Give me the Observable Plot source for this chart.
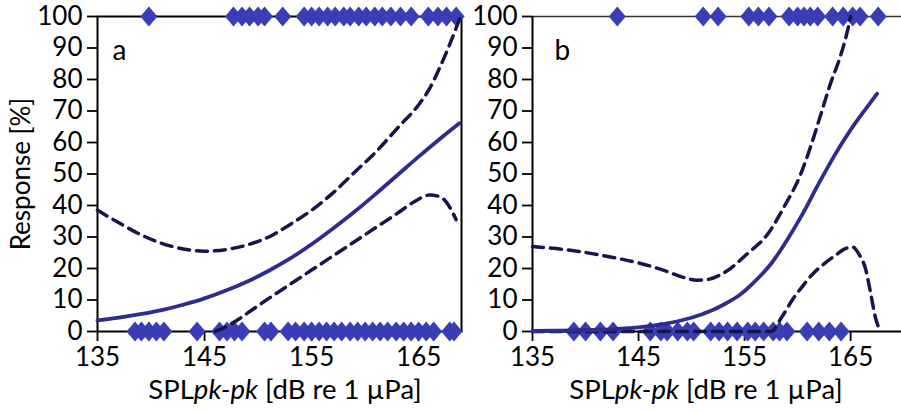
<!DOCTYPE html>
<html>
<head>
<meta charset="utf-8">
<script src="https://cdn.jsdelivr.net/npm/d3@7"></script>
<script src="https://cdn.jsdelivr.net/npm/@observablehq/plot@0.6"></script>
<style>
  html, body { margin: 0; padding: 0; background: #fff; }
  #wrap { position: relative; width: 901px; height: 412px; background: #fff; overflow: hidden; }
  #wrap svg { position: absolute; top: 0; }
</style>
</head>
<body>
<div id="wrap"></div>
<script>
// ---- tick labels ----
const yTicks = [0, 10, 20, 30, 40, 50, 60, 70, 80, 90, 100];
const xTicks = [135, 145, 155, 165];

// ---- panel a: observed responses (SPL values, dB) ----
const aResponded = [139.8, 147.7, 148.5, 149.2, 150.0, 150.6, 152.3, 154.3, 155.0, 155.7, 156.5, 157.2, 158.0, 158.6, 159.4, 160.1, 160.9, 161.6, 162.4, 163.3, 164.3, 165.9, 166.8, 167.6, 168.5];
const aNoResponse = [138.5, 139.1, 139.8, 140.5, 141.2, 144.3, 146.4, 147.1, 147.8, 148.5, 150.6, 151.2, 152.8, 153.5, 154.3, 155.0, 155.7, 156.4, 157.1, 157.8, 158.6, 159.3, 160.0, 160.7, 161.4, 162.1, 162.9, 163.6, 164.3, 165.0, 165.7, 166.4, 167.9, 168.3];
// fitted curve and confidence limits [SPL, %]
const aFit = [[135,3.5],[137,4.4],[139,5.5],[141,6.8],[143,8.5],[145,10.5],[147,13],[149,15.9],[151,19.3],[153,23.2],[155,27.7],[157,32.7],[159,38],[161,43.7],[163,49.6],[165,55.5],[167,61.2],[168.8,66.1]];
const aUpper = [[135,38.5],[137,34.5],[139,30.8],[141,28],[143,26.2],[145,25.5],[147,26],[149,27.5],[151,30],[153,34],[155,38.5],[157,44],[159,50.5],[161,57],[163,64.5],[165,72],[166,77],[167,84],[168,92],[168.9,100]];
const aLower = [[146,0],[147,1.5],[148,3.5],[149.5,7],[151,10.5],[153,15],[155,19.5],[157,24],[159,28.5],[161,33],[163,37.5],[164.5,41],[166,43.3],[167,42.8],[167.8,40],[168.5,35.5]];

// ---- panel b ----
const bResponded = [143.0, 151.1, 152.5, 155.4, 156.3, 157.3, 159.2, 160.0, 160.6, 161.2, 161.9, 163.3, 164.3, 165.2, 165.9, 167.6];
const bNoResponse = [138.9, 140.0, 141.4, 142.6, 146.1, 147.1, 147.7, 148.7, 149.6, 150.2, 151.8, 152.6, 153.4, 154.3, 155.3, 156.0, 156.8, 157.7, 158.3, 159.0, 160.9, 162.0, 163.0, 164.1];
const bFit = [[135,0.2],[140,0.4],[143,0.8],[145,1.3],[147,2.2],[149,3.5],[151,5.5],[152,6.8],[153,8.5],[154.5,11.5],[156,16],[157.5,21.5],[159,29],[160.5,37.5],[162,47],[163.5,56],[165,64],[166.5,71],[167.5,75.5]];
const bUpper = [[135,27],[138,26],[140.5,24.8],[142.6,23.5],[145.2,21.6],[147.4,19.4],[149.2,17.2],[150.5,16.3],[151.5,16.5],[153,18.5],[155.3,24.8],[157.2,31],[158.7,39.4],[160.3,50],[161.2,58.4],[162.2,69],[163.1,78.7],[164,87],[164.6,94],[165,100]];
const bLower = [[135,0],[157.5,0],[158.5,4.5],[159.5,10],[160.5,14.5],[161.5,18.5],[162.5,21.5],[163.5,24],[164.5,26.3],[165.2,26.8],[165.8,24.5],[166.4,20],[166.9,12],[167.3,5],[167.8,0]];

// ---- styles ----
const FONT = "Lato, 'Open Sans', sans-serif";
const DIAMOND = "#393db6";
const FIT = "#2f2d8c";
const CI = "#16164a";

// diamond slightly narrower than tall
const diamondSymbol = {
  draw(ctx, size) {
    const hh = Math.sqrt(size / Math.PI);
    const hw = hh * 0.85;
    ctx.moveTo(0, -hh);
    ctx.lineTo(hw, 0);
    ctx.lineTo(0, hh);
    ctx.lineTo(-hw, 0);
    ctx.closePath();
  }
};

function panel(o) {
  const pts = [
    ...o.responded.map(x => ({x, y: 100})),
    ...o.noResponse.map(x => ({x, y: 0}))
  ];
  const marks = [];
  if (o.frame) {
    marks.push(Plot.frame({stroke: "#000", strokeWidth: 2}));
  } else {
    marks.push(Plot.ruleY([100], {stroke: "#333", strokeWidth: 1.6}));
    marks.push(Plot.ruleY([0], {stroke: "#000", strokeWidth: 2}));
    marks.push(Plot.ruleX([o.xDomain[0]], {stroke: "#000", strokeWidth: 2}));
  }
  marks.push(
    Plot.axisY(yTicks, {tickSize: 10, tickPadding: 5, fontSize: 26, strokeWidth: 1.8,
      label: o.yLabel ? "Response [%]" : null, labelAnchor: "center", labelArrow: "none", labelOffset: 86}),
    Plot.axisX(xTicks, {tickSize: 10, tickPadding: 6, fontSize: 26, strokeWidth: 1.8, label: null, tickFormat: d => String(d)}),
    Plot.dot(pts, {x: "x", y: "y", r: 10, symbol: diamondSymbol, fill: DIAMOND, stroke: "none", clip: false}),
    Plot.line(o.lower, {x: d => d[0], y: d => d[1], stroke: CI, strokeWidth: 3.5, strokeDasharray: "11,7", curve: "monotone-x"}),
    Plot.line(o.upper, {x: d => d[0], y: d => d[1], stroke: CI, strokeWidth: 3.5, strokeDasharray: "11,7", curve: "monotone-x"}),
    Plot.line(o.fit, {x: d => d[0], y: d => d[1], stroke: FIT, strokeWidth: 3.8, curve: "monotone-x"}),
    Plot.text([o.letter], {text: d => d, frameAnchor: "top-left", dx: o.letterDx, dy: 24, fontSize: 28, fill: "#000", textAnchor: "start"})
  );
  const svg = Plot.plot({
    width: o.width,
    height: 412,
    marginLeft: o.marginLeft,
    marginRight: o.marginRight,
    marginTop: 16,
    marginBottom: 81,
    style: {fontFamily: FONT, fontSize: "26px", color: "#000", background: "transparent", overflow: "visible"},
    x: {domain: o.xDomain},
    y: {domain: [0, 100]},
    marks
  });
  // axis title with italic part
  const t = d3.select(svg).append("text")
    .attr("x", o.labelX).attr("y", 399)
    .attr("text-anchor", "middle")
    .attr("font-family", FONT).attr("font-size", 27.5).attr("fill", "#000");
  t.append("tspan").text("SPL");
  t.append("tspan").attr("font-style", "italic").text("pk-pk");
  t.append("tspan").text(" [dB re 1 µPa]");
  svg.style.left = o.left + "px";
  return svg;
}

const wrap = document.getElementById("wrap");
wrap.appendChild(panel({
  left: 0, width: 470, marginLeft: 97, marginRight: 9, xDomain: [135, 169], frame: true, yLabel: true,
  responded: aResponded, noResponse: aNoResponse, fit: aFit, upper: aUpper, lower: aLower,
  letter: "a", letterDx: 15, labelX: 285
}));
wrap.appendChild(panel({
  left: 470, width: 431, marginLeft: 62, marginRight: 0, xDomain: [135, 169.8], frame: false, yLabel: false,
  responded: bResponded, noResponse: bNoResponse, fit: bFit, upper: bUpper, lower: bLower,
  letter: "b", letterDx: 22, labelX: 236
}));
</script>
</body>
</html>
